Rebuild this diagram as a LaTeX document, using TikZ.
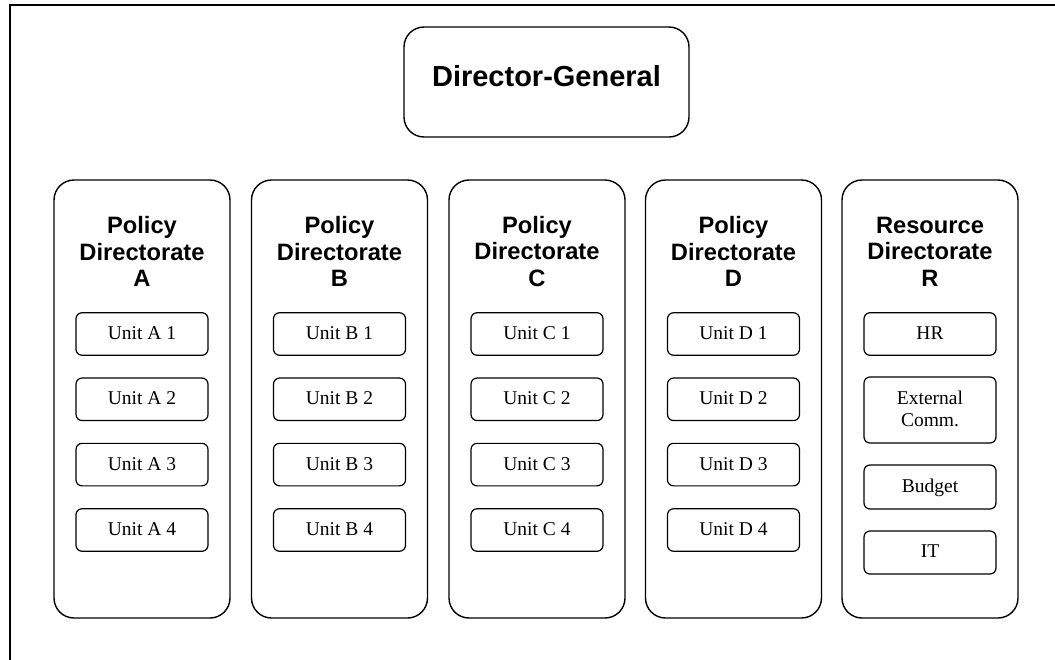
\documentclass[tikz,border=0pt]{standalone}
\usepackage{fontspec}
\setmainfont{Liberation Serif}
\newfontfamily\headfont{Liberation Sans}
\begin{document}
\begin{tikzpicture}[x=1pt,y=-1pt,
  frameline/.style={line width=2pt},
  topbox/.style={draw, line width=1.4pt, rounded corners=20pt, minimum width=285pt, minimum height=110pt, inner sep=0pt},
  dirbox/.style={draw, line width=1.4pt, rounded corners=20pt, minimum width=176pt, minimum height=438pt, inner sep=0pt},
  dirtitle/.style={align=center, inner sep=0pt, font=\headfont\bfseries\fontsize{23.7}{26.6}\selectfont},
  unitbox/.style={draw, line width=1.2pt, rounded corners=6pt, minimum width=132pt, minimum height=42.5pt, inner sep=0pt, align=center, text depth=2pt, font=\fontsize{19.5}{22}\selectfont},
]
\useasboundingbox (0,0) rectangle (1055,659);

% outer frame (left and top edges)
\draw[frameline] (10,662) -- (10,4.5) -- (1058,4.5);

% head of the organisation
\node[topbox] (dg) at (546.5,82) {};
\node[font=\headfont\bfseries\fontsize{29}{32}\selectfont, inner sep=0pt] (dgt) at (546.5,76.5) {Director-General};

% directorates
\foreach \k/\cx/\t in {a/142/{Policy\\Directorate\\A}, b/339.5/{Policy\\Directorate\\B}, c/537/{Policy\\Directorate\\C}, d/733.5/{Policy\\Directorate\\D}, r/930/{Resource\\Directorate\\R}}{
  \node[dirbox] (dir\k) at (\cx,399) {};
  \node[dirtitle] (title\k) at (\cx,251.5) {\t};
}

% policy units
\foreach \k/\cx/\L in {a/142/A, b/339.5/B, c/537/C, d/733.5/D}{
  \foreach \i/\cy in {1/334, 2/399.3, 3/464.6, 4/530}{
    \node[unitbox] (unit\k\i) at (\cx,\cy) {Unit \L\ \i};
  }
}

% resource units
\node[unitbox] (hr) at (930,334) {HR};
\node[unitbox, minimum height=66pt] (ext) at (930,410) {External\\Comm.};
\node[unitbox, minimum height=44pt] (budget) at (930,487) {Budget};
\node[unitbox, minimum height=43pt] (it) at (930,552.5) {IT};
\end{tikzpicture}
\end{document}
